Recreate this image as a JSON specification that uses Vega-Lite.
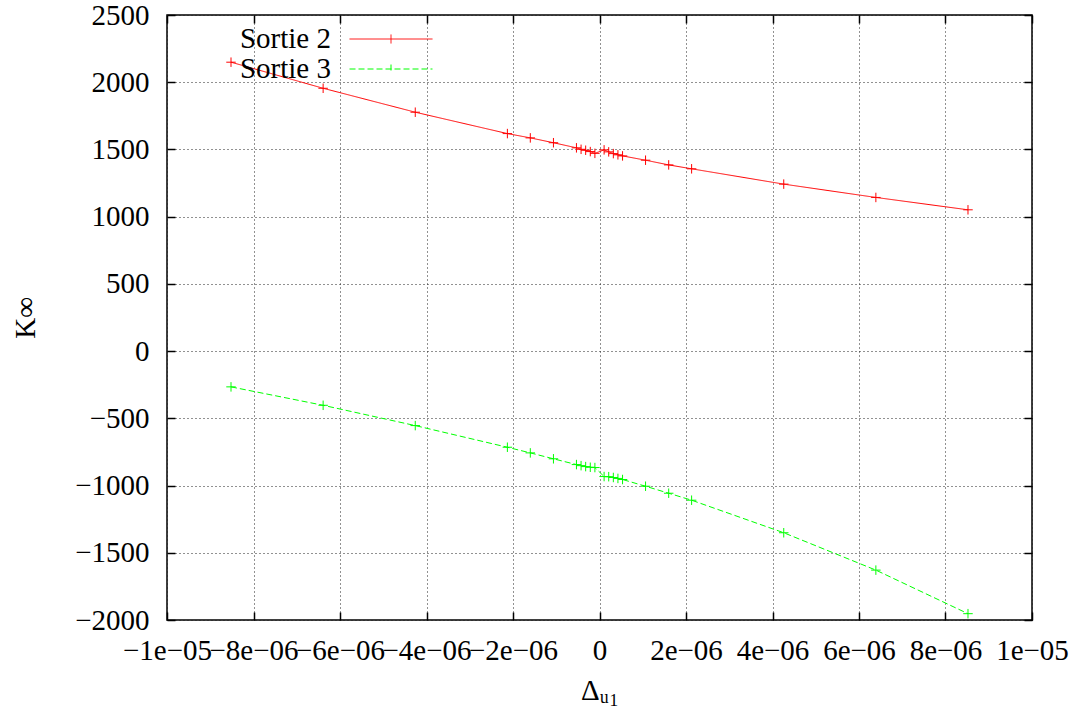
{
  "$schema": "https://vega.github.io/schema/vega-lite/v6.json",
  "autosize": {"type": "none"},
  "width": 865,
  "height": 605,
  "padding": {"left": 167, "top": 15, "right": 46, "bottom": 92},
  "background": "white",
  "config": {
    "view": {"stroke": "black", "strokeWidth": 1.5},
    "font": "Liberation Serif",
    "style": {
      "guide-label": {"font": "Liberation Serif", "fontSize": 29, "fill": "black"},
      "guide-title": {"font": "Liberation Serif", "fontSize": 29, "fill": "black", "fontWeight": "normal"}
    },
    "axis": {
      "domain": false,
      "tickColor": "black",
      "tickWidth": 1.5,
      "tickSize": -8,
      "gridColor": "#222222",
      "gridDash": [1, 3],
      "gridOpacity": 1,
      "gridWidth": 1,
      "labelOverlap": false,
      "labelFlush": false,
      "labelBound": false
    }
  },
  "data": {
    "values": [
      {"x": -8.52e-6, "k": 2149, "s": "Sortie 2"},
      {"x": -6.39e-6, "k": 1955, "s": "Sortie 2"},
      {"x": -4.26e-6, "k": 1777, "s": "Sortie 2"},
      {"x": -2.13e-6, "k": 1618, "s": "Sortie 2"},
      {"x": -1.6e-6, "k": 1586, "s": "Sortie 2"},
      {"x": -1.065e-6, "k": 1550, "s": "Sortie 2"},
      {"x": -0.533e-6, "k": 1512, "s": "Sortie 2"},
      {"x": -0.426e-6, "k": 1501, "s": "Sortie 2"},
      {"x": -0.32e-6, "k": 1494, "s": "Sortie 2"},
      {"x": -0.213e-6, "k": 1484, "s": "Sortie 2"},
      {"x": -0.1065e-6, "k": 1471, "s": "Sortie 2"},
      {"x": 0.1065e-6, "k": 1497, "s": "Sortie 2"},
      {"x": 0.213e-6, "k": 1482, "s": "Sortie 2"},
      {"x": 0.32e-6, "k": 1469, "s": "Sortie 2"},
      {"x": 0.426e-6, "k": 1460, "s": "Sortie 2"},
      {"x": 0.533e-6, "k": 1452, "s": "Sortie 2"},
      {"x": 1.065e-6, "k": 1420, "s": "Sortie 2"},
      {"x": 1.6e-6, "k": 1385, "s": "Sortie 2"},
      {"x": 2.13e-6, "k": 1356, "s": "Sortie 2"},
      {"x": 4.26e-6, "k": 1242, "s": "Sortie 2"},
      {"x": 6.39e-6, "k": 1143, "s": "Sortie 2"},
      {"x": 8.52e-6, "k": 1051, "s": "Sortie 2"},
      {"x": -8.52e-6, "k": -266, "s": "Sortie 3"},
      {"x": -6.39e-6, "k": -403, "s": "Sortie 3"},
      {"x": -4.26e-6, "k": -554, "s": "Sortie 3"},
      {"x": -2.13e-6, "k": -715, "s": "Sortie 3"},
      {"x": -1.6e-6, "k": -757, "s": "Sortie 3"},
      {"x": -1.065e-6, "k": -801, "s": "Sortie 3"},
      {"x": -0.533e-6, "k": -844, "s": "Sortie 3"},
      {"x": -0.426e-6, "k": -852, "s": "Sortie 3"},
      {"x": -0.32e-6, "k": -859, "s": "Sortie 3"},
      {"x": -0.213e-6, "k": -864, "s": "Sortie 3"},
      {"x": -0.1065e-6, "k": -866, "s": "Sortie 3"},
      {"x": 0.1065e-6, "k": -933, "s": "Sortie 3"},
      {"x": 0.213e-6, "k": -934, "s": "Sortie 3"},
      {"x": 0.32e-6, "k": -940, "s": "Sortie 3"},
      {"x": 0.426e-6, "k": -947, "s": "Sortie 3"},
      {"x": 0.533e-6, "k": -955, "s": "Sortie 3"},
      {"x": 1.065e-6, "k": -1005, "s": "Sortie 3"},
      {"x": 1.6e-6, "k": -1057, "s": "Sortie 3"},
      {"x": 2.13e-6, "k": -1109, "s": "Sortie 3"},
      {"x": 4.26e-6, "k": -1351, "s": "Sortie 3"},
      {"x": 6.39e-6, "k": -1629, "s": "Sortie 3"},
      {"x": 8.52e-6, "k": -1953, "s": "Sortie 3"}
    ]
  },
  "resolve": {"axis": {"x": "independent", "y": "independent"}},
  "layer": [
    {
      "mark": {"type": "line", "strokeWidth": 1, "clip": true},
      "encoding": {
        "x": {
          "field": "x", "type": "quantitative",
          "scale": {"domain": [-1e-5, 1e-5], "nice": false, "zero": false},
          "axis": {
            "orient": "bottom",
            "values": [-1e-5, -8e-6, -6e-6, -4e-6, -2e-6, 0, 2e-6, 4e-6, 6e-6, 8e-6, 1e-5],
            "labelExpr": "['−1e−05','−8e−06','−6e−06','−4e−06','−2e−06','0','2e−06','4e−06','6e−06','8e−06','1e−05'][round(datum.value/2e-6)+5]",
            "labelFont": "Liberation Serif",
            "labelFontSize": 29,
            "labelColor": "black",
            "labelPadding": 24,
            "title": "Δᵤ₁",
            "titleFont": "Liberation Serif",
            "titleFontSize": 29,
            "titleFontWeight": "normal",
            "titleColor": "black",
            "titlePadding": 11
          }
        },
        "y": {
          "field": "k", "type": "quantitative",
          "scale": {"domain": [-2000, 2500], "nice": false, "zero": false},
          "axis": {
            "orient": "left",
            "values": [-2000, -1500, -1000, -500, 0, 500, 1000, 1500, 2000, 2500],
            "format": "d",
            "labelExpr": "replace(datum.label, '-', '−')",
            "labelFont": "Liberation Serif",
            "labelFontSize": 29,
            "labelColor": "black",
            "labelPadding": 26,
            "title": "K∞",
            "titleFont": "Liberation Serif",
            "titleFontSize": 29,
            "titleFontWeight": "normal",
            "titleColor": "black",
            "titlePadding": 34
          }
        },
        "color": {
          "field": "s", "type": "nominal",
          "scale": {"domain": ["Sortie 2", "Sortie 3"], "range": ["#ff0000", "#00ff00"]},
          "legend": {
            "title": null,
            "orient": "none",
            "legendX": 209,
            "legendY": 9,
            "padding": 0,
            "symbolType": "M-2.862,0H2.862M0,-0.31V0.31",
            "symbolSize": 841,
            "symbolStrokeWidth": 1,
            "symbolFillColor": "transparent",
            "labelFont": "Liberation Serif",
            "labelFontSize": 29,
            "labelColor": "black",
            "labelAlign": "right",
            "labelOffset": -75,
            "rowPadding": 0
          }
        },
        "strokeDash": {
          "field": "s", "type": "nominal",
          "scale": {"domain": ["Sortie 2", "Sortie 3"], "range": [[1, 0], [6, 3]]},
          "legend": null
        }
      }
    },
    {
      "mark": {"type": "point", "shape": "M-1,0H1M0,-1V1", "size": 90, "filled": false, "strokeWidth": 1, "opacity": 1, "clip": true},
      "encoding": {
        "x": {
          "field": "x", "type": "quantitative",
          "axis": {
            "orient": "top",
            "values": [-1e-5, -8e-6, -6e-6, -4e-6, -2e-6, 0, 2e-6, 4e-6, 6e-6, 8e-6, 1e-5],
            "labels": false, "grid": false, "title": null
          }
        },
        "y": {
          "field": "k", "type": "quantitative",
          "axis": {
            "orient": "right",
            "values": [-2000, -1500, -1000, -500, 0, 500, 1000, 1500, 2000, 2500],
            "labels": false, "grid": false, "title": null
          }
        },
        "color": {"field": "s", "type": "nominal", "legend": null}
      }
    }
  ]
}
